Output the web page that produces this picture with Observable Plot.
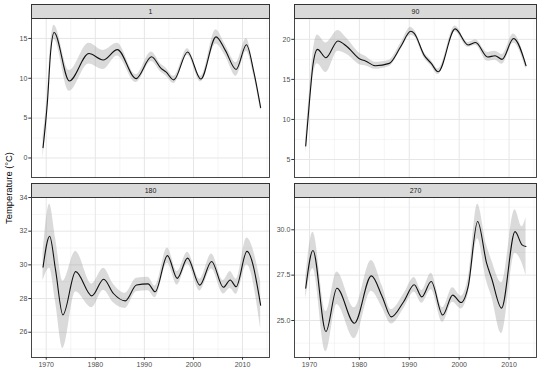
<!DOCTYPE html>
<html><head><meta charset="utf-8">
<script src="https://cdn.jsdelivr.net/npm/d3@7"></script>
<script src="https://cdn.jsdelivr.net/npm/@observablehq/plot@0.6"></script>
<style>
body{margin:0;background:#fff;font-family:"Liberation Sans",Arial,sans-serif;}
#wrap{position:relative;width:540px;height:371px;overflow:hidden;background:#fff;}
.strip{position:absolute;background:#d9d9d9;border:1px solid #333;box-sizing:border-box;font-size:7px;color:#1a1a1a;text-align:center;}
.pn{position:absolute;}
#ytitle{position:absolute;left:8px;top:188px;transform:translate(-50%,-50%) rotate(-90deg);font-size:9.4px;color:#000;white-space:nowrap;}
</style></head>
<body><div id="wrap"><div id="ytitle">Temperature (°C)</div></div>
<script>
// ---- data ----
const xTicks = [1970, 1980, 1990, 2000, 2010];
const xMinor = [1975, 1985, 1995, 2005, 2015];

const p1Years = [1969.35, 1970.25, 1970.9, 1971.6, 1974.7, 1978.7, 1981.6, 1984.5, 1988.3, 1991.45, 1993.4, 1994.4, 1996.0, 1998.8, 2001.5, 2004.6, 2006.5, 2008.7, 2010.8, 2012.3, 2013.7];
const p1Temp = [1.3, 7.1, 13.3, 15.75, 9.66, 13.1, 12.3, 13.6, 9.96, 12.7, 11.25, 10.8, 9.8, 13.3, 9.9, 15.2, 13.5, 11.1, 14.2, 10.8, 6.3];
const p1Se = [1.4, 1.0, 0.9, 0.9, 1.3, 1.3, 1.2, 0.8, 0.5, 0.6, 0.5, 0.5, 0.45, 0.4, 0.35, 0.9, 0.7, 0.85, 0.8, 0.5, 0.4];
const p1Ticks = [0, 5, 10, 15];

const p90Years = [1969.25, 1970.1, 1970.7, 1971.6, 1973.3, 1975.7, 1977.5, 1980.2, 1981.2, 1983.2, 1986.0, 1988.3, 1990.3, 1991.0, 1993.0, 1994.4, 1995.8, 1999.2, 2001.8, 2003.3, 2005.7, 2007.2, 2008.6, 2010.9, 2013.4];
const p90Temp = [6.7, 13.0, 16.8, 18.75, 17.7, 19.8, 19.1, 17.5, 17.3, 16.7, 17.0, 19.1, 21.0, 20.75, 18.0, 17.0, 15.95, 21.3, 19.3, 19.6, 17.8, 17.95, 17.5, 20.1, 16.7];
const p90Se = [1.0, 1.2, 1.5, 1.8, 1.85, 1.3, 1.0, 0.7, 0.6, 0.45, 0.4, 0.4, 0.5, 0.4, 0.35, 0.35, 0.35, 0.35, 0.3, 0.35, 0.55, 0.55, 0.6, 0.55, 0.45];
const p90Ticks = [5, 10, 15, 20];

const p180Years = [1969.35, 1970.7, 1971.9, 1973.4, 1976.0, 1979.3, 1981.7, 1983.7, 1986.1, 1988.4, 1990.75, 1992.2, 1994.7, 1996.7, 1998.8, 2001.3, 2003.7, 2006.1, 2007.5, 2008.7, 2010.9, 2013.7];
const p180Temp = [29.86, 31.7, 29.7, 27.03, 29.6, 28.16, 29.15, 28.3, 27.86, 28.8, 28.87, 28.4, 30.55, 29.2, 30.4, 28.8, 30.2, 28.67, 29.1, 28.7, 30.8, 27.6];
const p180Se = [0.8, 1.9, 1.9, 2.0, 1.2, 0.7, 0.65, 0.55, 0.45, 0.4, 0.4, 0.35, 0.45, 0.4, 0.35, 0.35, 0.45, 0.4, 0.5, 0.45, 0.8, 1.4];
const p180Ticks = [26, 28, 30, 32, 34];

const p270Years = [1969.25, 1970.7, 1973.3, 1975.5, 1979.0, 1982.4, 1984.6, 1986.4, 1988.9, 1991.0, 1992.5, 1994.4, 1996.7, 1998.7, 2000.4, 2001.8, 2003.7, 2005.5, 2006.5, 2008.5, 2011.2, 2012.6, 2013.4];
const p270Temp = [26.78, 28.86, 24.39, 26.78, 24.85, 27.46, 26.3, 25.2, 26.05, 26.97, 26.3, 27.15, 25.3, 26.4, 25.99, 26.87, 30.46, 28.16, 27.33, 25.68, 29.9, 29.17, 29.08];
const p270Se = [0.6, 1.0, 1.1, 0.9, 0.85, 0.85, 0.6, 0.4, 0.4, 0.4, 0.35, 0.45, 0.4, 0.4, 0.35, 0.45, 0.95, 1.0, 1.0, 1.4, 1.2, 1.0, 1.6];
const p270Ticks = [25, 27.5, 30];

// ---- drawing ----
const xDomain = [1967.0, 2015.5];
const wrap = document.getElementById("wrap");
const ML = 24;

function panel(label, years, temp, se, yTicks, yDomain, fmt, box, showX) {
  const [px0, py0, px1, py1] = box;
  const mb = showX ? 14 : 1;
  const data = years.map((x, i) => ({x, y: temp[i], lo: temp[i] - se[i], hi: temp[i] + se[i]}));
  const minor = [];
  const step = yTicks[1] - yTicks[0];
  for (let i = 0; i < yTicks.length + 1; i++) {
    const v = yTicks[0] - step / 2 + i * step;
    if (v > yDomain[0] && v < yDomain[1]) minor.push(v);
  }
  const marks = [
    Plot.gridY(minor, {stroke: "#ebebeb", strokeOpacity: 1, strokeWidth: 0.5}),
    Plot.gridX(xMinor.filter(v => v < xDomain[1]), {stroke: "#ebebeb", strokeOpacity: 1, strokeWidth: 0.5}),
    Plot.gridY(yTicks, {stroke: "#e6e6e6", strokeOpacity: 1, strokeWidth: 1}),
    Plot.gridX(xTicks, {stroke: "#e6e6e6", strokeOpacity: 1, strokeWidth: 1}),
    Plot.areaY(data, {x: "x", y1: "lo", y2: "hi", fill: "#999999", fillOpacity: 0.36, curve: "monotone-x", clip: true}),
    Plot.lineY(data, {x: "x", y: "y", stroke: "#111", strokeWidth: 1.1, curve: "monotone-x", clip: true}),
    Plot.frame({stroke: "#333", strokeWidth: 0.9}),
    Plot.axisY(yTicks, {tickSize: 2.7, tickPadding: 1.5, tickFormat: fmt, stroke: "#333", label: null})
  ];
  if (showX) marks.push(Plot.axisX(xTicks, {tickSize: 2.7, tickPadding: 1.5, tickFormat: d => String(d), stroke: "#333", label: null}));
  const w = px1 - px0, h = py1 - py0;
  const svg = Plot.plot({
    width: ML + w + 1, height: 1 + h + mb,
    marginLeft: ML, marginRight: 1, marginTop: 1, marginBottom: mb,
    x: {domain: xDomain, axis: null, label: null},
    y: {domain: yDomain, axis: null, label: null},
    style: {fontSize: "7px", fontFamily: "'Liberation Sans', Arial, sans-serif", color: "#4d4d4d", background: "transparent", overflow: "visible"},
    marks
  });
  svg.classList.add("pn");
  svg.style.left = (px0 - ML) + "px";
  svg.style.top = (py0 - 1) + "px";
  wrap.appendChild(svg);
  const s = document.createElement("div");
  s.className = "strip";
  s.style.left = px0 + "px"; s.style.top = (py0 - 14) + "px";
  s.style.width = (w + 1) + "px"; s.style.height = "15px"; s.style.lineHeight = "13px";
  s.textContent = label;
  wrap.appendChild(s);
}

panel("1", p1Years, p1Temp, p1Se, p1Ticks, [-2.45, 17.5], d => String(d), [31, 18, 269, 177], false);
panel("90", p90Years, p90Temp, p90Se, p90Ticks, [2.75, 22.6], d => String(d), [294, 18, 536, 177], false);
panel("180", p180Years, p180Temp, p180Se, p180Ticks, [24.5, 34.0], d => String(d), [31, 197, 269, 357], true);
panel("270", p270Years, p270Temp, p270Se, p270Ticks, [22.96, 31.78], d => d.toFixed(1), [294, 197, 536, 357], true);
</script></body></html>
